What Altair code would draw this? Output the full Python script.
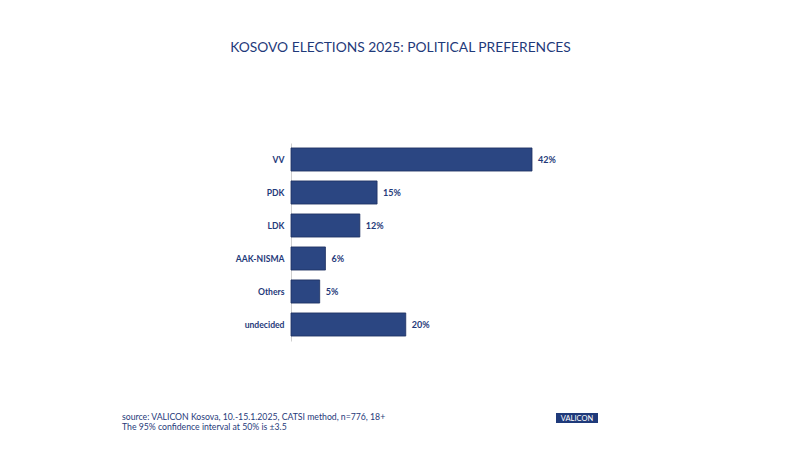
import altair as alt
import pandas as pd

parties = ["VV", "PDK", "LDK", "AAK-NISMA", "Others", "undecided"]
shares = [42, 15, 12, 6, 5, 20]
labels = ["42%", "15%", "12%", "6%", "5%", "20%"]
source_lines = [
    "source: VALICON Kosova, 10.-15.1.2025, CATSI method, n=776, 18+",
    "The 95% confidence interval at 50% is \u00b13.5",
]

NAVY = "#1f3a7a"
BAR = "#2b4682"
FONT = "Lato"

df = pd.DataFrame({"party": parties, "share": shares, "label": labels})

base = alt.Chart(df).encode(
    y=alt.Y(
        "party:N",
        sort=parties,
        title=None,
        scale=alt.Scale(paddingInner=0.3, paddingOuter=0.15),
        axis=alt.Axis(
            ticks=False,
            domainColor="#cfcfcf",
            domainWidth=1,
            labelFont=FONT,
            labelFontWeight="bold",
            labelFontSize=8.6,
            labelColor=NAVY,
            labelPadding=7,
        ),
    ),
    x=alt.X("share:Q", scale=alt.Scale(domain=[0, 42]), axis=None),
)

bars = base.mark_bar(color=BAR, stroke="#1c2f60", strokeWidth=0.8)
values = base.mark_text(
    align="left", dx=6, font=FONT, fontWeight="bold", fontSize=9, color=NAVY
).encode(text="label:N")

src = pd.DataFrame({"t": source_lines})
footer1 = alt.Chart(src.iloc[[0]]).mark_text(
    align="left", baseline="middle", font=FONT, fontSize=8.7, color=NAVY
).encode(x=alt.value(-169), y=alt.value(274), text="t:N")
footer2 = alt.Chart(src.iloc[[1]]).mark_text(
    align="left", baseline="middle", font=FONT, fontSize=8.7, color=NAVY
).encode(x=alt.value(-169), y=alt.value(283.5), text="t:N")

logo_box = alt.Chart(pd.DataFrame({"a": [1]})).mark_rect(color=NAVY).encode(
    x=alt.value(265), x2=alt.value(307), y=alt.value(270), y2=alt.value(280)
)
logo_txt = alt.Chart(pd.DataFrame({"t": ["VALICON"]})).mark_text(
    font=FONT, fontSize=7.5, color="white", baseline="middle"
).encode(x=alt.value(286), y=alt.value(275.5), text="t:N")

chart = (
    alt.layer(bars, values, footer1, footer2, logo_box, logo_txt)
    .properties(
        width=241,
        height=198,
        autosize=alt.AutoSizeParams(type="none"),
        padding={"left": 283, "top": 135, "right": 260, "bottom": 123},
        title=alt.Title(
            "KOSOVO ELECTIONS 2025: POLITICAL PREFERENCES",
            font=FONT,
            fontSize=13.8,
            fontWeight="normal",
            color=NAVY,
            anchor="middle",
            dx=-11,
            offset=88,
        ),
    )
    .configure(background="white")
    .configure_view(stroke=None)
)

chart.save("out.html", embed_options={"renderer": "svg", "actions": False})
